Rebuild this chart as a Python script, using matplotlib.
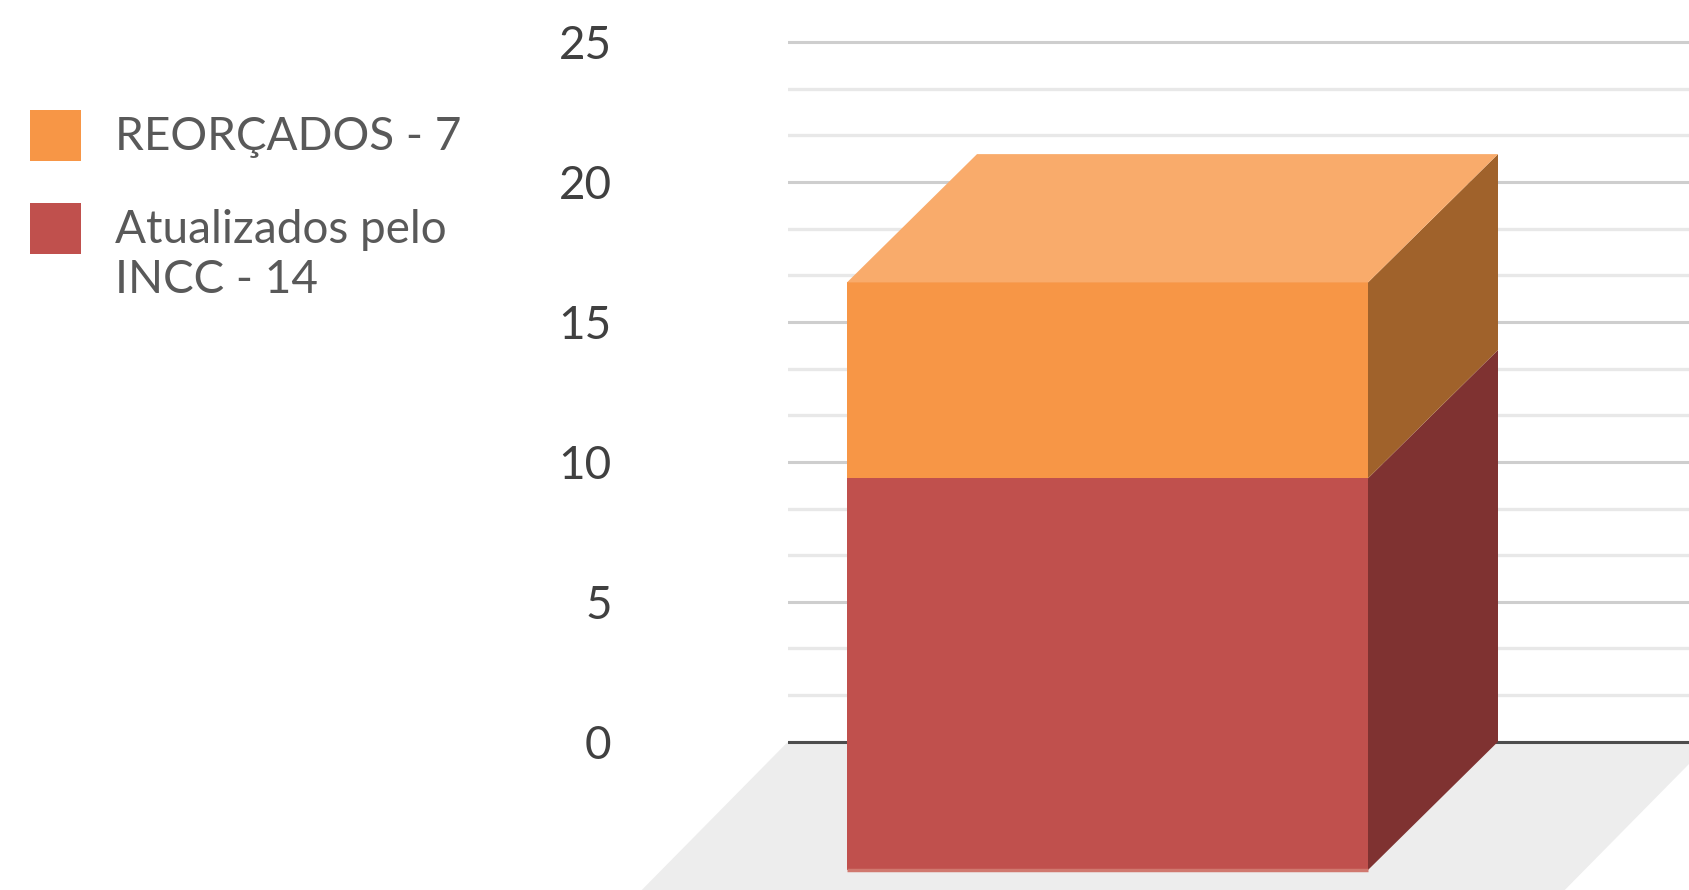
#--------importing modules-------------

import matplotlib
matplotlib.use("Agg")
import matplotlib.pyplot as plt
from matplotlib.patches import Rectangle

#-------data-------

series_names = ["Atualizados pelo\nINCC - 14", "REORÇADOS - 7"]
series_values = [14, 7]
front_colors = ["#C0504D", "#F79646"]
side_colors = ["#7F3231", "#A0622B"]
top_color = "#F9AB6B"
major_ticks = [0, 5, 10, 15, 20, 25]
minor_ticks = [5 * i / 3 for i in range(16) if i % 3 != 0]

#-------layout (x axis is in pixels)------

W, H = 1690, 890
grid_left = 788
y0_px = 741.7           #pixel row of value 0
px_per_unit = 27.98
depth_x = 130           #3d depth, pixels
depth_y = 128.3 / px_per_unit
bar_left, bar_right = 847, 1368
floor_right = 1711
floor_dx = 253          #floor is twice as deep as the bar
font = ["Lato", "DejaVu Sans"]

fig = plt.figure(figsize=(W / 100, H / 100), dpi=100, facecolor="white")
ax = fig.add_axes([grid_left / W, 0, 1 - grid_left / W, 1])
ax.set_xlim(grid_left, W)
ax.set_ylim(-(H - y0_px) / px_per_unit, y0_px / px_per_unit)
for s in ax.spines.values():
    s.set_visible(False)

#-------grid and labels-------------------

ax.set_xticks([])
ax.set_yticks(major_ticks)
ax.set_yticks(minor_ticks, minor=True)
ax.tick_params(axis="y", which="both", length=0, pad=127, labelsize=33, labelcolor="#404040")
for lab in ax.get_yticklabels():
    lab.set_family(font)
ax.grid(axis="y", which="major", color="#CECECE", lw=2.2)
ax.grid(axis="y", which="minor", color="#E8E8E8", lw=2.4)
ax.set_axisbelow(True)
ax.axhline(0, color="#4D4D4D", lw=2.2, zorder=1.5)

#-------floor-----------------------------

ax.fill([grid_left, floor_right, floor_right - floor_dx, grid_left - floor_dx],
        [0, 0, -2 * depth_y, -2 * depth_y],
        color="#EDEDED", lw=0, zorder=1, clip_on=False)

#-------the stacked 3d bar----------------

bottom = 0
for value, front, side in zip(series_values, front_colors, side_colors):
    ax.bar((bar_left + bar_right) / 2, value, width=bar_right - bar_left, bottom=bottom - depth_y,
           color=front, lw=0, zorder=3)
    ax.fill([bar_right, bar_right + depth_x, bar_right + depth_x, bar_right],
            [bottom - depth_y, bottom, bottom + value, bottom + value - depth_y],
            color=side, lw=0, zorder=3)
    bottom += value
ax.fill([bar_left, bar_right, bar_right + depth_x, bar_left + depth_x],
        [bottom - depth_y, bottom - depth_y, bottom, bottom],
        color=top_color, lw=0, zorder=3)
ax.plot([bar_left, bar_right], [-depth_y, -depth_y], color="#D0786F", lw=2.5, zorder=4,
        solid_capstyle="butt")

#-------legend----------------------------

swatch_rows = [(110, front_colors[1], series_names[1]),
               (203, front_colors[0], series_names[0])]
for top, color, name in swatch_rows:
    fig.add_artist(Rectangle((30 / W, 1 - (top + 51) / H), 51 / W, 51 / H, transform=fig.transFigure,
                             facecolor=color, edgecolor="none"))
    fig.text(115 / W, 1 - (top + 6) / H, name, family=font, fontsize=33, color="#595959",
             va="top", ha="left", linespacing=1.23)

fig.savefig("out.png", dpi=100)
